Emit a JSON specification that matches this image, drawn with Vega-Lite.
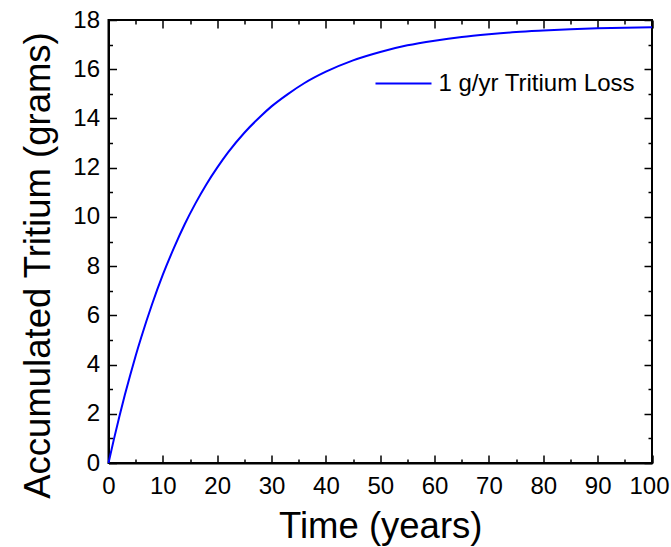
{
  "$schema": "https://vega.github.io/schema/vega-lite/v6.json",
  "width": 543.5,
  "height": 443,
  "autosize": {"type": "none"},
  "padding": {"left": 108.5, "top": 20, "right": 19, "bottom": 84},
  "config": {
    "font": "Liberation Sans",
    "view": {"stroke": "black", "strokeWidth": 2},
    "axis": {
      "grid": false,
      "domainColor": "black",
      "domainWidth": 2,
      "tickColor": "black",
      "tickWidth": 1.5,
      "labelColor": "black",
      "labelFont": "Liberation Sans",
      "labelFontSize": 24,
      "titleFont": "Liberation Sans",
      "titleFontSize": 36.5,
      "titleFontWeight": "normal",
      "titleColor": "black",
      "labelOverlap": false,
      "labelFlush": false
    }
  },
  "data": {
    "values": [
      {"t": 0, "g": 0, "series": "1 g/yr Tritium Loss"},
      {"t": 1, "g": 0.97, "series": "1 g/yr Tritium Loss"},
      {"t": 2, "g": 1.89, "series": "1 g/yr Tritium Loss"},
      {"t": 3, "g": 2.76, "series": "1 g/yr Tritium Loss"},
      {"t": 4, "g": 3.58, "series": "1 g/yr Tritium Loss"},
      {"t": 5, "g": 4.36, "series": "1 g/yr Tritium Loss"},
      {"t": 6, "g": 5.09, "series": "1 g/yr Tritium Loss"},
      {"t": 8, "g": 6.44, "series": "1 g/yr Tritium Loss"},
      {"t": 10, "g": 7.65, "series": "1 g/yr Tritium Loss"},
      {"t": 12, "g": 8.72, "series": "1 g/yr Tritium Loss"},
      {"t": 14, "g": 9.69, "series": "1 g/yr Tritium Loss"},
      {"t": 16, "g": 10.55, "series": "1 g/yr Tritium Loss"},
      {"t": 18, "g": 11.32, "series": "1 g/yr Tritium Loss"},
      {"t": 20, "g": 12.0, "series": "1 g/yr Tritium Loss"},
      {"t": 22, "g": 12.62, "series": "1 g/yr Tritium Loss"},
      {"t": 25, "g": 13.42, "series": "1 g/yr Tritium Loss"},
      {"t": 28, "g": 14.09, "series": "1 g/yr Tritium Loss"},
      {"t": 30, "g": 14.49, "series": "1 g/yr Tritium Loss"},
      {"t": 33, "g": 14.99, "series": "1 g/yr Tritium Loss"},
      {"t": 36, "g": 15.43, "series": "1 g/yr Tritium Loss"},
      {"t": 40, "g": 15.9, "series": "1 g/yr Tritium Loss"},
      {"t": 45, "g": 16.36, "series": "1 g/yr Tritium Loss"},
      {"t": 50, "g": 16.7, "series": "1 g/yr Tritium Loss"},
      {"t": 55, "g": 16.97, "series": "1 g/yr Tritium Loss"},
      {"t": 60, "g": 17.16, "series": "1 g/yr Tritium Loss"},
      {"t": 65, "g": 17.31, "series": "1 g/yr Tritium Loss"},
      {"t": 70, "g": 17.42, "series": "1 g/yr Tritium Loss"},
      {"t": 75, "g": 17.51, "series": "1 g/yr Tritium Loss"},
      {"t": 80, "g": 17.57, "series": "1 g/yr Tritium Loss"},
      {"t": 85, "g": 17.62, "series": "1 g/yr Tritium Loss"},
      {"t": 90, "g": 17.66, "series": "1 g/yr Tritium Loss"},
      {"t": 95, "g": 17.69, "series": "1 g/yr Tritium Loss"},
      {"t": 100, "g": 17.71, "series": "1 g/yr Tritium Loss"}
    ]
  },
  "layer": [
    {
      "mark": {"type": "line", "strokeWidth": 2, "interpolate": "monotone"},
      "encoding": {
        "x": {
          "field": "t", "type": "quantitative",
          "scale": {"domain": [0, 100], "nice": false, "zero": false},
          "axis": {
            "orient": "bottom",
            "title": "Time (years)",
            "values": [0,5,10,15,20,25,30,35,40,45,50,55,60,65,70,75,80,85,90,95,100],
            "labelExpr": "datum.value % 10 === 0 ? datum.label : ''",
            "labelOffset": {"condition": {"test": "datum.value === 100", "value": -3}, "value": 0},
            "tickSize": {"condition": {"test": "datum.value % 10 === 0", "value": -8}, "value": -4},
            "labelPadding": 19,
            "titlePadding": 6
          }
        },
        "y": {
          "field": "g", "type": "quantitative",
          "scale": {"domain": [0, 18], "nice": false},
          "axis": {
            "orient": "left",
            "title": "Accumulated Tritium (grams)",
            "titleY": 245,
            "values": [0,1,2,3,4,5,6,7,8,9,10,11,12,13,14,15,16,17,18],
            "labelExpr": "datum.value % 2 === 0 ? datum.label : ''",
            "tickSize": {"condition": {"test": "datum.value % 2 === 0", "value": -8}, "value": -4},
            "labelPadding": 17,
            "titlePadding": 15
          }
        },
        "color": {
          "field": "series", "type": "nominal",
          "scale": {"range": ["#0000ff"]},
          "legend": {
            "title": null,
            "orient": "none",
            "legendX": 266,
            "legendY": 34.5,
            "symbolType": "stroke",
            "symbolSize": 3136,
            "symbolStrokeWidth": 2,
            "labelFontSize": 24,
            "labelFont": "Liberation Sans",
            "labelColor": "black",
            "labelOffset": 6,
            "labelLimit": 400
          }
        }
      }
    },
    {
      "mark": {"type": "line", "opacity": 0},
      "encoding": {
        "x": {
          "field": "t", "type": "quantitative",
          "scale": {"domain": [0, 100], "nice": false, "zero": false},
          "axis": {
            "orient": "top",
            "title": null,
            "labels": false,
            "domain": false,
            "values": [0,5,10,15,20,25,30,35,40,45,50,55,60,65,70,75,80,85,90,95,100],
            "tickSize": {"condition": {"test": "datum.value % 10 === 0", "value": -8}, "value": -4}
          }
        },
        "y": {
          "field": "g", "type": "quantitative",
          "scale": {"domain": [0, 18], "nice": false},
          "axis": {
            "orient": "right",
            "title": null,
            "labels": false,
            "domain": false,
            "values": [0,1,2,3,4,5,6,7,8,9,10,11,12,13,14,15,16,17,18],
            "tickSize": {"condition": {"test": "datum.value % 2 === 0", "value": -8}, "value": -4}
          }
        }
      }
    }
  ],
  "resolve": {"axis": {"x": "independent", "y": "independent"}}
}
